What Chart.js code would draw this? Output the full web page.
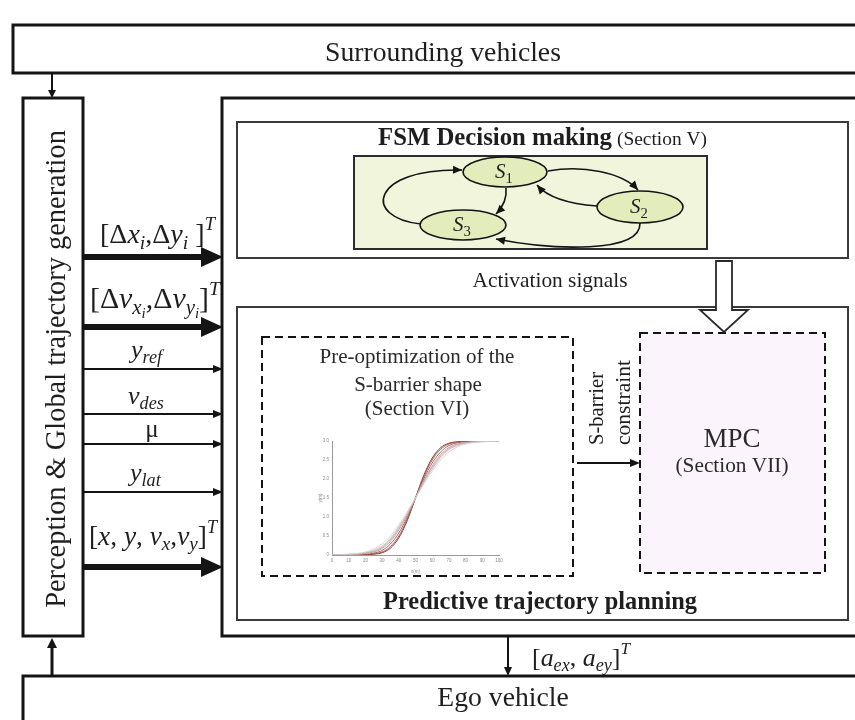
<!DOCTYPE html>
<html><head><meta charset="utf-8">
<script src="https://cdn.jsdelivr.net/npm/chart.js@4.4.1/dist/chart.umd.min.js"></script>
<style>
html,body{margin:0;padding:0;background:#fff;}
#wrap{position:relative;width:855px;height:720px;overflow:hidden;}
#main{position:absolute;left:0;top:0;}
#mini{position:absolute;left:318px;top:436px;}
</style></head><body>
<div id="wrap"><canvas id="main" width="855" height="720"></canvas><canvas id="mini" width="186" height="138"></canvas></div>
<script>
// ---- S-barrier shape curves ----
const xPositions = [0,5,10,15,20,25,30,35,40,45,50,55,60,65,70,75,80,85,90,95,100];
const curveWide   = [0,0.01,0.02,0.04,0.08,0.16,0.29,0.5,0.8,1.13,1.5,1.87,2.2,2.5,2.71,2.84,2.92,2.96,2.98,2.99,3];
const curveGray   = [0,0.01,0.02,0.03,0.06,0.12,0.23,0.43,0.74,1.09,1.5,1.91,2.26,2.57,2.77,2.88,2.94,2.97,2.98,2.99,3];
const curveRose   = [0,0,0.01,0.02,0.04,0.08,0.17,0.36,0.66,1.04,1.5,1.96,2.34,2.64,2.83,2.92,2.96,2.98,2.99,3,3];
const curvePink   = [0,0,0.01,0.02,0.05,0.1,0.2,0.4,0.7,1.06,1.5,1.94,2.3,2.6,2.8,2.9,2.95,2.98,2.99,3,3];
const curveBrown  = [0,0,0,0.01,0.02,0.05,0.12,0.29,0.58,0.99,1.5,2.01,2.42,2.71,2.88,2.95,2.98,2.99,3,3,3];
const curveRed    = [0,0,0,0,0.01,0.03,0.08,0.22,0.5,0.94,1.5,2.06,2.5,2.78,2.92,2.97,2.99,3,3,3,3];
const curveDark   = [0,0,0,0,0.01,0.02,0.06,0.18,0.45,0.9,1.5,2.1,2.55,2.82,2.94,2.98,2.99,3,3,3,3];
const curveSeries = [curveWide, curveGray, curveRose, curvePink, curveBrown, curveRed, curveDark];
const curveColors = ['#d6cfcf','#c2b6b6','#b89a9a','#e3a9a9','#8f6258','#c44a4a','#5e2626'];
const xTickLabels = ['0','10','20','30','40','50','60','70','80','90','100'];
const yTickLabels = ['0','0.5','1','1.5','2','2.5','3'];

// ---- diagram texts ----
const titleTop = 'Surrounding vehicles';
const titleLeft = 'Perception & Global trajectory generation';
const titleBottom = 'Ego vehicle';
const fsmTitle = ['FSM Decision making', '(Section V)'];
const activationText = 'Activation signals';
const preoptLines = ['Pre-optimization of the', 'S-barrier shape', '(Section VI)'];
const mpcLines = ['MPC', '(Section VII)'];
const constraintLines = ['S-barrier', 'constraint'];
const planningTitle = 'Predictive trajectory planning';
const stateNames = ['1','2','3'];

const SERIF = '"Liberation Serif", "Times New Roman", serif';

function fontStr(weight, style, size){ return `${style} ${weight} ${size}px ${SERIF}`; }
function fitSize(ctx, text, weight, target){
  ctx.font = fontStr(weight,'normal',100);
  return 100*target/ctx.measureText(text).width;
}
const KINDS = {
  r:{s:1,dy:0,it:false}, i:{s:1,dy:0,it:true},
  sub:{s:0.7,dy:0.2,it:true}, rsub:{s:0.7,dy:0.22,it:false}, ssub:{s:0.5,dy:0.34,it:true},
  sup:{s:0.66,dy:-0.45,it:true}
};
function richWidth(ctx, parts, base){
  let w=0;
  for(const [t,k] of parts){ const K=KINDS[k]; ctx.font=fontStr('normal',K.it?'italic':'normal',base*K.s); w+=ctx.measureText(t).width; }
  return w;
}
function richBase(ctx, parts, left, baseline, base){
  let x=left;
  ctx.textAlign='left'; ctx.textBaseline='alphabetic';
  for(const [t,k] of parts){ const K=KINDS[k]; ctx.font=fontStr('normal',K.it?'italic':'normal',base*K.s);
    ctx.fillText(t,x,baseline+K.dy*base); x+=ctx.measureText(t).width; }
}
function rich(ctx, parts, left, baseline, target){
  richBase(ctx, parts, left, baseline, 100*target/richWidth(ctx, parts, 100));
}

const labelDxDy = [['[','r'],['Δ','r'],['x','i'],['i','sub'],[',','r'],['Δ','r'],['y','i'],['i','sub'],[' ]','r'],['T','sup']];
const labelDv = [['[','r'],['Δ','r'],['v','i'],['x','sub'],['i','ssub'],[',','r'],['Δ','r'],['v','i'],['y','sub'],['i','ssub'],[']','r'],['T','sup']];
const labelYref = [['y','i'],['ref','sub']];
const labelVdes = [['v','i'],['des','sub']];
const labelYlat = [['y','i'],['lat','sub']];
const labelState = [['x','i'],[', ','r'],['y','i'],[', ','r'],['v','i'],['x','sub'],[',','r'],['v','i'],['y','sub']];
const labelStateFull = [['[','r']].concat(labelState, [[']','r'],['T','sup']]);
const labelAcc = [['[','r'],['a','i'],['ex','sub'],[', ','r'],['a','i'],['ey','sub'],[']','r'],['T','sup']];

const diagramPlugin = {
  id:'diagram',
  afterDraw(chart){
    const ctx = chart.ctx;
    const sx = chart.scales.x, sy = chart.scales.y;
    const X = v => sx.getPixelForValue(v), Y = v => sy.getPixelForValue(v);
    const ink = '#141414';
    ctx.save();
    ctx.fillStyle='#fff'; ctx.fillRect(0,0,chart.width,chart.height);

    function rect(x1,y1,x2,y2,lw,color,dash,fill){
      ctx.save(); ctx.beginPath(); ctx.rect(X(x1),Y(y1),X(x2)-X(x1),Y(y2)-Y(y1));
      if(fill){ctx.fillStyle=fill; ctx.fill();}
      ctx.setLineDash(dash||[]); ctx.lineWidth=lw; ctx.strokeStyle=color; ctx.stroke(); ctx.restore();
    }
    function head(x,y,ang,len,hw){
      ctx.beginPath();
      ctx.moveTo(x,y);
      ctx.lineTo(x-len*Math.cos(ang)+hw*Math.sin(ang), y-len*Math.sin(ang)-hw*Math.cos(ang));
      ctx.lineTo(x-len*Math.cos(ang)-hw*Math.sin(ang), y-len*Math.sin(ang)+hw*Math.cos(ang));
      ctx.closePath(); ctx.fill();
    }
    function arrow(x1,y1,x2,y2,lw,len,hw){
      const a=Math.atan2(Y(y2)-Y(y1),X(x2)-X(x1));
      ctx.beginPath(); ctx.moveTo(X(x1),Y(y1));
      ctx.lineTo(X(x2)-(len-1)*Math.cos(a),Y(y2)-(len-1)*Math.sin(a));
      ctx.lineWidth=lw; ctx.strokeStyle=ink; ctx.stroke();
      ctx.fillStyle=ink; head(X(x2),Y(y2),a,len,hw);
    }
    function curveArrow(p0,c1,c2,p1){
      ctx.beginPath(); ctx.moveTo(X(p0[0]),Y(p0[1]));
      ctx.bezierCurveTo(X(c1[0]),Y(c1[1]),X(c2[0]),Y(c2[1]),X(p1[0]),Y(p1[1]));
      ctx.lineWidth=1.6; ctx.strokeStyle=ink; ctx.stroke();
      const a=Math.atan2(Y(p1[1])-Y(c2[1]),X(p1[0])-X(c2[0]));
      ctx.fillStyle=ink; head(X(p1[0]),Y(p1[1]),a,9,4);
    }
    function text(t,x,y,target,weight,align,color){
      const s=fitSize(ctx,t,weight||'normal',target);
      ctx.font=fontStr(weight||'normal','normal',s);
      ctx.textAlign=align||'center'; ctx.textBaseline='alphabetic';
      ctx.fillStyle=color||'#1e1e1e'; ctx.fillText(t,X(x),Y(y));
      return s;
    }
    function textSized(t,x,y,size,weight,align,color){
      ctx.font=fontStr(weight||'normal','normal',size);
      ctx.textAlign=align||'center'; ctx.textBaseline='alphabetic';
      ctx.fillStyle=color||'#1e1e1e'; ctx.fillText(t,X(x),Y(y));
    }
    function vtext(t,x,y,target,align){
      ctx.save(); ctx.translate(X(x),Y(y)); ctx.rotate(-Math.PI/2);
      const s=fitSize(ctx,t,'normal',target);
      ctx.font=fontStr('normal','normal',s); ctx.textAlign=align||'center'; ctx.textBaseline='alphabetic';
      ctx.fillStyle='#1e1e1e'; ctx.fillText(t,0,0); ctx.restore();
    }

    // outer boxes
    rect(13,25,880,73,3,ink);
    const topSize = text(titleTop,443,61,236);
    arrow(52,73,52,98,2,8,4);
    rect(23,98,83,636,3,ink);
    vtext(titleLeft,65,369,478);
    rect(222,98,880,636,3,ink);
    rect(23,676,880,760,3,ink);
    textSized(titleBottom,503,706,topSize);
    arrow(52,676,52,638,3,10,5);
    arrow(508,636,508,676,2,9,4);
    ctx.fillStyle='#1e1e1e'; rich(ctx,labelAcc,532,666,98);

    // FSM box
    rect(237,122,848,258,2,'#3a3a3a');
    text(fsmTitle[0],378,145,234,'bold','left');
    text(fsmTitle[1],617,145,90,'normal','left');
    rect(354,156,707,249,2,'#2c2c2c',null,'#f0f5dc');
    // state transition arrows
    curveArrow([421,224],[362,218],[370,168],[462,170]);
    curveArrow([548,171],[582,165],[622,172],[638,190]);
    curveArrow([597,206],[570,204],[548,198],[537,185]);
    curveArrow([506,188],[507,198],[503,207],[496,214]);
    curveArrow([640,223],[641,254],[552,250],[496,239]);
    const ells=[[505,172,42,15],[640,207,43,16],[463,225,43,15]];
    ells.forEach((e,i)=>{
      ctx.beginPath(); ctx.ellipse(X(e[0]),Y(e[1]),e[2],e[3],0,0,Math.PI*2);
      ctx.fillStyle='#e3ecbb'; ctx.fill(); ctx.lineWidth=1.6; ctx.strokeStyle=ink; ctx.stroke();
      ctx.fillStyle='#1e1e1e';
      richBase(ctx,[['S','i'],[stateNames[i],'rsub']],X(e[0])-10,Y(e[1])+6,21);
    });

    // activation signals text
    text(activationText,550,287,155);

    // planning box
    rect(237,307,848,620,2,'#3a3a3a');
    text(planningTitle,540,609,314,'bold');

    rect(262,337,573,576,2,ink,[8,5],'#ffffff');
    textSized(preoptLines[0],417,363,21,'normal','center','#2a2a2a');
    textSized(preoptLines[1],418,391,21,'normal','center','#2a2a2a');
    textSized(preoptLines[2],417,415,21,'normal','center','#2a2a2a');

    rect(640,333,825,573,2,ink,[8,5],'#fcf4fc');
    // hollow arrow (activation signals)
    const cx=724, sw=8, hw=24;
    ctx.beginPath();
    ctx.moveTo(X(cx-sw),Y(261)); ctx.lineTo(X(cx+sw),Y(261)); ctx.lineTo(X(cx+sw),Y(310));
    ctx.lineTo(X(cx+hw),Y(310)); ctx.lineTo(X(cx),Y(332)); ctx.lineTo(X(cx-hw),Y(310));
    ctx.lineTo(X(cx-sw),Y(310)); ctx.closePath();
    ctx.fillStyle='#fff'; ctx.fill(); ctx.lineWidth=1.8; ctx.strokeStyle='#2a2a2a'; ctx.stroke();

    text(mpcLines[0],732,447,57,'normal','center','#2a2a2a');
    text(mpcLines[1],732,472,113,'normal','center','#2a2a2a');
    vtext(constraintLines[0],603,445,73,'left');
    vtext(constraintLines[1],630,445,85,'left');
    arrow(577,463,640,463,2,10,4);

    // left input arrows
    ctx.fillStyle='#1e1e1e';
    rich(ctx,labelDxDy,100,243,115);
    arrow(83,257,223,257,6,22,10);
    ctx.fillStyle='#1e1e1e';
    rich(ctx,labelDv,90,308,130);
    arrow(83,327,223,327,6,22,10);
    ctx.fillStyle='#1e1e1e';
    richBase(ctx,labelYref,131,358,26);
    arrow(83,369,223,369,2,10,4);
    ctx.fillStyle='#1e1e1e';
    richBase(ctx,labelVdes,128,404,26);
    arrow(83,414,223,414,2,10,4);
    ctx.fillStyle='#1e1e1e';
    textSized('μ',152,437,25);
    arrow(83,444,223,444,2,10,4);
    ctx.fillStyle='#1e1e1e';
    richBase(ctx,labelYlat,130,481,26);
    arrow(83,492,223,492,2,10,4);
    ctx.fillStyle='#1e1e1e';
    rich(ctx,labelStateFull,89,545,128);
    arrow(83,567,223,567,6,22,10);
    ctx.restore();
  }
};

new Chart(document.getElementById('main'), {
  type:'scatter',
  data:{datasets:[]},
  options:{responsive:false, animation:false, events:[], layout:{padding:0},
    plugins:{legend:{display:false}, tooltip:{enabled:false}},
    scales:{x:{type:'linear',min:0,max:855,display:false}, y:{type:'linear',min:0,max:720,reverse:true,display:false}}},
  plugins:[diagramPlugin]
});

const tickFont = {size:4.5, family:'"Liberation Sans", Arial, sans-serif'};
new Chart(document.getElementById('mini'), {
  type:'line',
  data:{datasets: curveSeries.map((c,i)=>({
    data: xPositions.map((x,j)=>({x:x, y:c[j]})),
    borderColor: curveColors[i], borderWidth: 0.9, pointRadius:0,
    cubicInterpolationMode:'monotone', fill:false }))},
  options:{responsive:false, animation:false, events:[],
    layout:{padding:{top:5,right:5,left:0,bottom:0}},
    plugins:{legend:{display:false}, tooltip:{enabled:false}},
    scales:{
      x:{type:'linear', min:0, max:100, afterFit(s){s.height=19;},
        grid:{display:false, drawTicks:true, tickLength:2, color:'#999'}, border:{color:'#9a9a9a', width:1},
        afterBuildTicks(s){ s.ticks = xTickLabels.map(v=>({value:+v})); },
        ticks:{font:tickFont, color:'#888', padding:1, maxRotation:0, autoSkip:false},
        title:{display:true, text:'x(m)', font:tickFont, color:'#888', padding:0}},
      y:{type:'linear', min:0, max:3, afterFit(s){s.width=14;},
        grid:{display:false, drawTicks:true, tickLength:2, color:'#999'}, border:{color:'#9a9a9a', width:1},
        afterBuildTicks(s){ s.ticks = yTickLabels.map(v=>({value:+v})); },
        ticks:{font:tickFont, color:'#888', padding:1, autoSkip:false},
        title:{display:true, text:'y(m)', font:tickFont, color:'#888', padding:0}}
    }}
});
</script>
</body></html>
